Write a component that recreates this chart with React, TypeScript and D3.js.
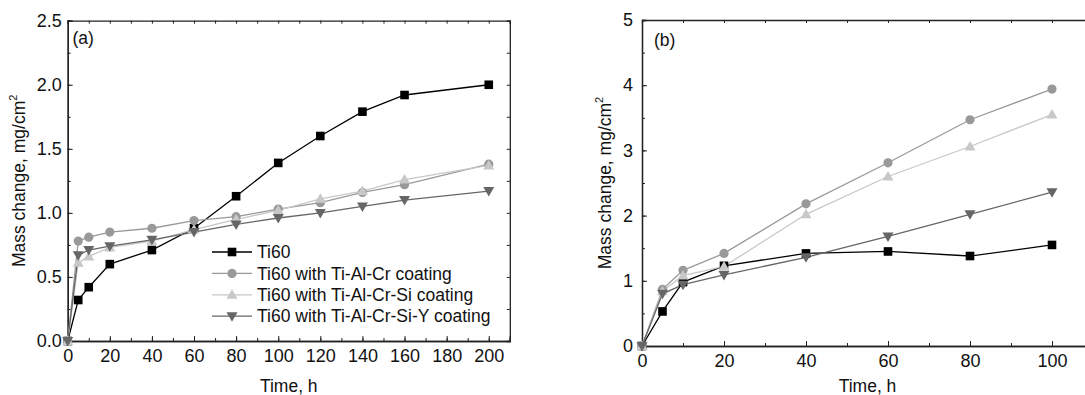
import { useEffect, useRef } from "react";
import * as d3 from "d3";

// panel (a): 0-200 h
const timesA = [0, 5, 10, 20, 40, 60, 80, 100, 120, 140, 160, 200];
const ti60A = [0, 0.32, 0.42, 0.6, 0.71, 0.88, 1.13, 1.39, 1.6, 1.79, 1.92, 2.0];
const crA = [0, 0.78, 0.81, 0.85, 0.88, 0.94, 0.97, 1.03, 1.08, 1.16, 1.22, 1.38];
const siA = [0, 0.61, 0.66, 0.73, 0.78, 0.87, 0.95, 1.02, 1.11, 1.17, 1.26, 1.37];
const yA = [0, 0.67, 0.71, 0.74, 0.79, 0.85, 0.91, 0.96, 1.0, 1.05, 1.1, 1.17];

// panel (b): 0-100 h
const timesB = [0, 5, 10, 20, 40, 60, 80, 100];
const ti60B = [0, 0.53, 0.98, 1.23, 1.42, 1.45, 1.38, 1.55];
const crB = [0, 0.87, 1.16, 1.42, 2.18, 2.81, 3.47, 3.94];
const siB = [0, 0.84, 1.08, 1.22, 2.02, 2.6, 3.06, 3.55];
const yB = [0, 0.8, 0.94, 1.09, 1.36, 1.68, 2.02, 2.36];

const seriesNames = [
  "Ti60",
  "Ti60 with Ti-Al-Cr coating",
  "Ti60 with Ti-Al-Cr-Si coating",
  "Ti60 with Ti-Al-Cr-Si-Y coating",
];
const colors = ["#000000", "#999999", "#c8c8c8", "#666666"];
const shapes = ["square", "circle", "up", "down"];

const FONT = "'Liberation Sans', Arial, sans-serif";
const TXT = 17.5;
const TICK = 18;

function drawMarker(g: any, shape: string, x: number, y: number, color: string) {
  if (shape === "square") {
    g.append("rect").attr("x", x - 4.3).attr("y", y - 4.3).attr("width", 8.6).attr("height", 8.6).attr("fill", color);
  } else if (shape === "circle") {
    g.append("circle").attr("cx", x).attr("cy", y).attr("r", 4.6).attr("fill", color);
  } else if (shape === "up") {
    g.append("path").attr("d", `M${x},${y - 5.5}L${x + 5.5},${y + 4}L${x - 5.5},${y + 4}Z`).attr("fill", color);
  } else {
    g.append("path").attr("d", `M${x},${y + 5.5}L${x + 5.5},${y - 4}L${x - 5.5},${y - 4}Z`).attr("fill", color);
  }
}

function drawPanel(svg: any, opts: any) {
  const { left, right, top, bottom, xMax, yMax, times, series, xMajor, xMinor, yMajor, yMinor, yFmt, label, labelX, labelY, yTitleX, rightAxis, pad } = opts;
  const x = d3.scaleLinear().domain([0, xMax]).range([left, right]);
  const y = d3.scaleLinear().domain([0, yMax]).range([bottom, top]);
  const g = svg.append("g").attr("font-family", FONT);
  const axisColor = "#222";

  // minor ticks
  g.append("g").attr("transform", `translate(0,${bottom})`)
    .call(d3.axisBottom(x).tickValues(xMinor).tickSize(-3).tickFormat(() => ""));
  g.append("g").attr("transform", `translate(${left},0)`)
    .call(d3.axisLeft(y).tickValues(yMinor).tickSize(-3).tickFormat(() => ""));
  g.append("g").attr("transform", `translate(0,${top})`)
    .call(d3.axisTop(x).tickValues(d3.range(0, xMax + 0.1, 10)).tickSize(-3).tickFormat(() => ""));
  if (rightAxis) {
    g.append("g").attr("transform", `translate(${right},0)`)
      .call(d3.axisRight(y).tickValues(d3.range(0, yMax + 0.01, yMax / 10)).tickSize(-3).tickFormat(() => ""));
  }
  // major ticks with labels
  g.append("g").attr("transform", `translate(0,${bottom})`)
    .call(d3.axisBottom(x).tickValues(xMajor).tickSize(-5).tickPadding(pad.x).tickFormat(d3.format("d")));
  g.append("g").attr("transform", `translate(${left},0)`)
    .call(d3.axisLeft(y).tickValues(yMajor).tickSize(-5).tickPadding(pad.y).tickFormat(d3.format(yFmt)));

  g.selectAll(".domain").attr("stroke", axisColor).attr("stroke-width", 1.3);
  g.selectAll(".tick line").attr("stroke", axisColor).attr("stroke-width", 1);
  g.selectAll(".tick text").attr("font-size", TICK).attr("fill", "#111").attr("font-family", FONT);

  // series
  series.forEach((vals: number[], i: number) => {
    const line = d3.line<number>().x((_, k) => x(times[k])).y((d) => y(d));
    g.append("path").attr("d", line(vals)).attr("fill", "none").attr("stroke", colors[i]).attr("stroke-width", 1.3);
  });
  series.forEach((vals: number[], i: number) => {
    const mg = g.append("g");
    vals.forEach((v, k) => drawMarker(mg, shapes[i], x(times[k]), y(v), colors[i]));
  });

  g.append("text").attr("x", labelX).attr("y", labelY).attr("font-size", TXT).attr("fill", "#111").text(label);
  g.append("text").attr("x", (left + right) / 2).attr("y", 392).attr("text-anchor", "middle")
    .attr("font-size", TXT).attr("fill", "#111").text("Time, h");

  const t = g.append("text")
    .attr("transform", `translate(${yTitleX},${(top + bottom) / 2}) rotate(-90)`)
    .attr("text-anchor", "middle").attr("font-size", TXT).attr("fill", "#111");
  t.append("tspan").text("Mass change, mg/cm");
  t.append("tspan").attr("font-size", 11).attr("dy", -8).text("2");
  return { x, y, g };
}

export default function App() {
  const ref = useRef<SVGSVGElement>(null);
  useEffect(() => {
    const svg = d3.select(ref.current);
    svg.selectAll("*").remove();

    const a = drawPanel(svg, {
      left: 67.7, right: 509.8, top: 20.7, bottom: 341, xMax: 210, yMax: 2.5,
      times: timesA, series: [ti60A, crA, siA, yA],
      xMajor: d3.range(0, 201, 20), xMinor: d3.range(0, 211, 10),
      yMajor: d3.range(0, 2.51, 0.5), yMinor: d3.range(0, 2.51, 0.25), yFmt: ".1f",
      label: "(a)", labelX: 72.5, labelY: 44, yTitleX: 25, rightAxis: true, pad: { x: 8, y: 6 },
    });

    // legend
    const lg = a.g.append("g");
    seriesNames.forEach((name, i) => {
      const cy = 252 + i * 21.4;
      lg.append("line").attr("x1", 212).attr("x2", 252).attr("y1", cy).attr("y2", cy)
        .attr("stroke", colors[i]).attr("stroke-width", 1.3);
      drawMarker(lg, shapes[i], 232, cy, colors[i]);
      lg.append("text").attr("x", 257).attr("y", cy + 6.2).attr("font-size", TXT).attr("fill", "#111").text(name);
    });

    drawPanel(svg, {
      left: 642, right: 1093, top: 20, bottom: 346, xMax: 110, yMax: 5,
      times: timesB, series: [ti60B, crB, siB, yB],
      xMajor: d3.range(0, 101, 20), xMinor: d3.range(0, 111, 10),
      yMajor: d3.range(0, 5.01, 1), yMinor: d3.range(0, 5.01, 0.5), yFmt: "d",
      label: "(b)", labelX: 654, labelY: 46, yTitleX: 611, rightAxis: false, pad: { x: 8, y: 9 },
    });
  }, []);

  return (
    <svg
      ref={ref}
      width={1085}
      height={395}
      style={{ position: "absolute", left: 0, top: 0, background: "#fff" }}
    />
  );
}
